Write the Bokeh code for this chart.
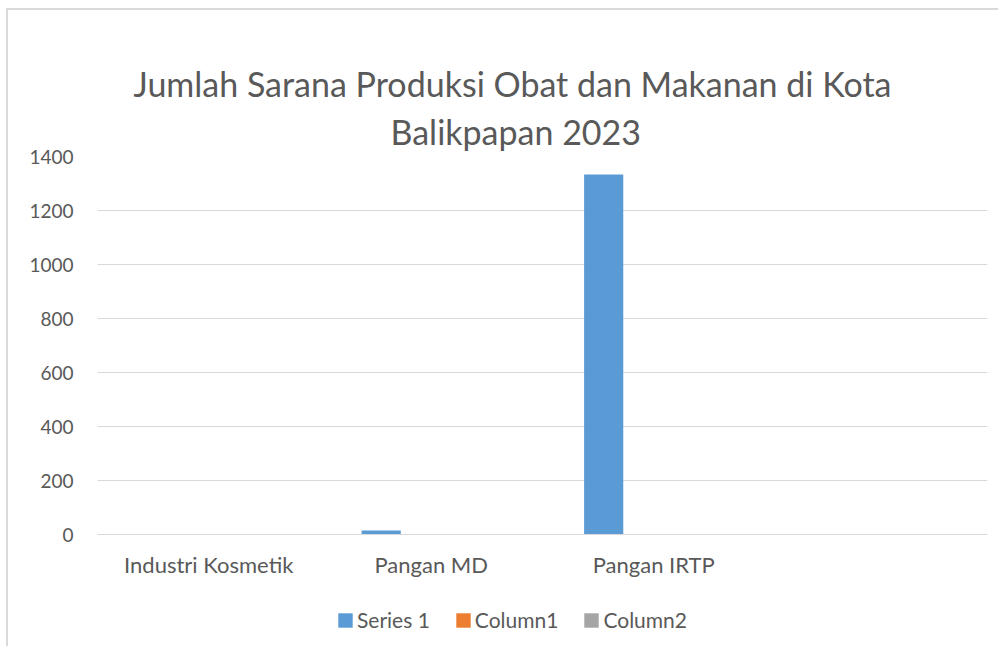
from bokeh.plotting import figure
from bokeh.layouts import column
from bokeh.models import ColumnDataSource, FactorRange, Legend, LegendItem, Title, SingleIntervalTicker
from bokeh.transform import dodge
from bokeh.embed import file_html
from bokeh.resources import INLINE

categories = ["Industri Kosmetik", "Pangan MD", "Pangan IRTP", " "]
series_1 = [1, 15, 1333, 0]
column_1 = [0, 0, 0, 0]
column_2 = [0, 0, 0, 0]
series_names = ["Series 1", "Column1", "Column2"]
colors = ["#5B9BD5", "#ED7D31", "#A5A5A5"]
title_lines = ["Jumlah Sarana Produksi Obat dan Makanan di Kota", "Balikpapan 2023"]

src = ColumnDataSource(dict(cat=categories, s1=series_1, c1=column_1, c2=column_2))

TXT = "#595959"
GRID = "#D9D9D9"
FONT = "Lato"

p = figure(x_range=FactorRange(*categories), y_range=(0, 1400),
           width=990, height=586, output_backend="svg", toolbar_location=None,
           min_border_left=89, min_border_right=11, min_border_top=146, min_border_bottom=62)
p.title = None

offsets = [-0.225, 0.0, 0.225]
fields = ["s1", "c1", "c2"]
for f, off, col in zip(fields, offsets, colors):
    p.vbar(x=dodge("cat", off, range=p.x_range), top=f, width=0.176, source=src,
           fill_color=col, line_color=None)

t2 = Title(text=title_lines[1], align="left", text_font=FONT, text_font_size="34px",
           text_color=TXT, text_font_style="normal", standoff=10, offset=293)
t1 = Title(text=title_lines[0], align="left", text_font=FONT, text_font_size="34px",
           text_color=TXT, text_font_style="normal", standoff=0, offset=36)
p.add_layout(t2, "above")
p.add_layout(t1, "above")

p.outline_line_color = None
p.xgrid.grid_line_color = None
p.ygrid.grid_line_color = GRID
p.ygrid.grid_line_width = 1
p.yaxis.ticker = SingleIntervalTicker(interval=200)

p.yaxis.axis_line_color = None
p.yaxis.major_tick_line_color = None
p.yaxis.minor_tick_line_color = None
p.yaxis.major_tick_out = 0
p.yaxis.minor_tick_out = 0
p.yaxis.major_label_text_font = FONT
p.yaxis.major_label_text_font_size = "19px"
p.yaxis.major_label_text_color = TXT
p.yaxis.major_label_standoff = 24

p.xaxis.axis_line_color = GRID
p.xaxis.major_tick_line_color = None
p.xaxis.minor_tick_line_color = None
p.xaxis.major_tick_out = 0
p.xaxis.minor_tick_out = 0
p.xaxis.major_label_text_font = FONT
p.xaxis.major_label_text_font_size = "22px"
p.xaxis.major_label_text_color = TXT
p.xaxis.major_label_standoff = 16
p.x_range.range_padding = 0

# legend strip below the chart
lf = figure(x_range=p.x_range, y_range=(0, 1400), width=990, height=50,
            output_backend="svg", toolbar_location=None, x_axis_type=None, y_axis_type=None,
            min_border_left=0, min_border_right=0, min_border_top=0, min_border_bottom=0)
lf.title = None
lf.outline_line_color = None
lf.xgrid.grid_line_color = None
lf.ygrid.grid_line_color = None
items = []
for f, off, col, name in zip(fields, offsets, colors, series_names):
    r = lf.vbar(x=dodge("cat", off, range=p.x_range), top=f, width=0.176, source=src,
                fill_color=col, line_color=None, visible=False)
    items.append(LegendItem(label=name, renderers=[r]))
legend = Legend(items=items, orientation="horizontal", location=(239, 14),
                label_text_font=FONT, label_text_font_size="21px", label_text_color=TXT,
                glyph_width=18, glyph_height=18, spacing=24, label_standoff=3,
                border_line_color=None, background_fill_alpha=0, margin=0, padding=0,
                click_policy="none")
lf.add_layout(legend, "center")

layout = column(p, lf, spacing=0,
                styles={"margin-left": "6px", "margin-top": "8px",
                        "border-top": "2px solid #D9D9D9", "border-left": "2px solid #D9D9D9"})

open("out.html", "w").write(file_html(layout, INLINE))
